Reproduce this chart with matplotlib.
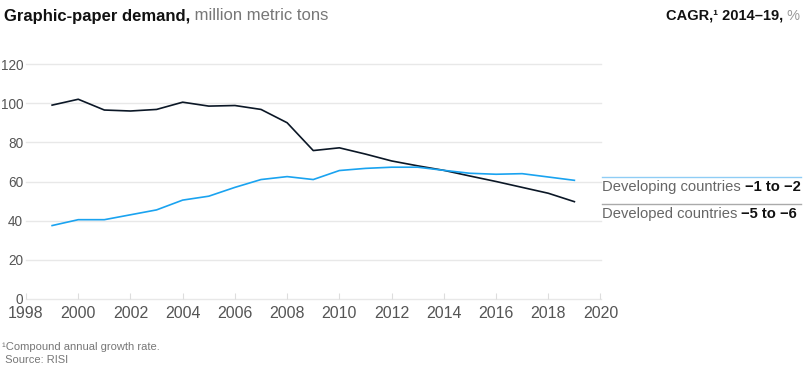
import matplotlib
matplotlib.use("Agg")
import matplotlib.pyplot as plt

years = list(range(1999, 2020))
developed = [99, 102, 96.5, 96, 96.8, 100.5, 98.5, 98.8, 96.8, 90, 75.8,
             77.2, 74, 70.5, 68, 65.7, 62.8, 60, 57, 54, 49.7]
developing = [37.5, 40.5, 40.5, 43, 45.5, 50.5, 52.5, 57, 61, 62.5, 61,
              65.6, 66.7, 67.3, 67.3, 65.7, 64.2, 63.7, 64, 62.3, 60.6]

x_ticks = list(range(1998, 2021, 2))
y_ticks = [0, 20, 40, 60, 80, 100, 120]

series_labels = ["Developing countries", "Developed countries"]
cagr_labels = ["\u22121 to \u22122", "\u22125 to \u22126"]

dark = "#0b1726"
blue = "#1aa3f0"
grey_txt = "#555555"
grid_c = "#e8e8e8"

plt.rcParams["font.family"] = ["Liberation Sans", "DejaVu Sans"]

fig = plt.figure(figsize=(8.04, 3.74), dpi=100)
ax = fig.add_axes([26 / 804, 1 - 299 / 374, 574.5 / 804, 235 / 374])

ax.plot(years, developed, color=dark, lw=1.2, zorder=3)
ax.plot(years, developing, color=blue, lw=1.2, zorder=3)

ax.set_xlim(1998, 2020)
ax.set_ylim(0, 120)
ax.set_xticks(x_ticks)
ax.set_yticks(y_ticks)
for y in y_ticks:
    ax.axhline(y, color=grid_c, lw=1, zorder=1, clip_on=False)
for s in ax.spines.values():
    s.set_visible(False)
ax.tick_params(axis="x", direction="in", length=4, color="#dddddd",
               labelsize=11.5, labelcolor=grey_txt, pad=5)
ax.tick_params(axis="y", length=0, labelsize=9.8, labelcolor=grey_txt, pad=2)

# title
t1 = fig.text(4 / 804, 1 - 16 / 374, "Graphic-paper demand,", fontsize=12,
              fontweight="bold", color="#111111", va="center")
ax.annotate(" million metric tons", xy=(1, 0), xycoords=t1, va="bottom",
            fontsize=12, color="#777777", annotation_clip=False)

t2 = fig.text(800 / 804, 1 - 16 / 374, " %", fontsize=10.5, color="#999999",
              ha="right", va="center")
ax.annotate("CAGR,\u00b9 2014\u201319,", xy=(0, 0), xycoords=t2, ha="right",
            va="bottom", fontsize=10.5, fontweight="bold", color="#111111",
            annotation_clip=False)

# right-hand labels
label_y = [187, 214]
line_y = [177, 204]
line_c = ["#8fcdf5", "#aaaaaa"]
for name, cagr, ly, lny, lc in zip(series_labels, cagr_labels, label_y, line_y, line_c):
    fig.add_artist(plt.Line2D([602 / 804, 801 / 804], [1 - lny / 374] * 2,
                              color=lc, lw=1, transform=fig.transFigure))
    t = fig.text(602 / 804, 1 - ly / 374, name + " ", fontsize=10.6,
                 color="#666666", va="center")
    ax.annotate(cagr, xy=(1, 0), xycoords=t, va="bottom", fontsize=10.6,
                fontweight="bold", color="#111111", annotation_clip=False)

# footnotes
fig.text(2 / 804, 1 - 347 / 374, "\u00b9Compound annual growth rate.",
         fontsize=8, color="#777777", va="center")
fig.text(2 / 804, 1 - 360 / 374, " Source: RISI", fontsize=8,
         color="#777777", va="center")

fig.savefig("out.png", dpi=100)
